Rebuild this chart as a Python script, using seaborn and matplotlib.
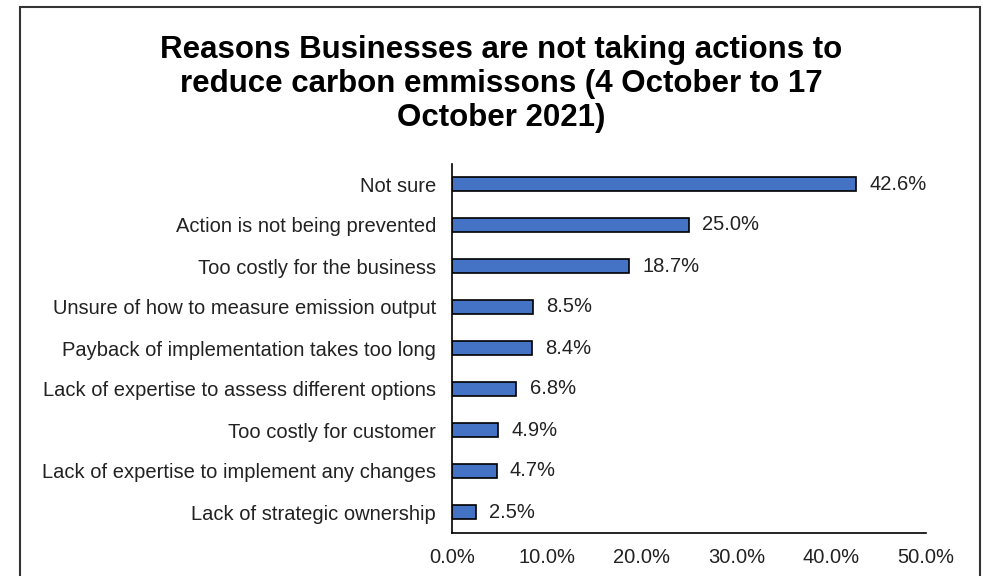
import matplotlib
matplotlib.use("Agg")
import matplotlib.pyplot as plt
import seaborn as sns
import pandas as pd
from matplotlib.patches import Rectangle
from matplotlib.ticker import FuncFormatter, MultipleLocator

reasons = [
    "Not sure",
    "Action is not being prevented",
    "Too costly for the business",
    "Unsure of how to measure emission output",
    "Payback of implementation takes too long",
    "Lack of expertise to assess different options",
    "Too costly for customer",
    "Lack of expertise to implement any changes",
    "Lack of strategic ownership",
]
shares = [42.6, 25.0, 18.7, 8.5, 8.4, 6.8, 4.9, 4.7, 2.5]

title = ("Reasons Businesses are not taking actions to\n"
         "reduce carbon emmissons (4 October to 17\n"
         "October 2021)")

sns.set_theme(style="white")
plt.rcParams["font.family"] = ["Liberation Sans", "DejaVu Sans"]

df = pd.DataFrame({"reason": reasons, "share": shares})

W, H = 987, 576
fig = plt.figure(figsize=(W / 100, H / 100), dpi=100)
ax = fig.add_axes([452 / W, (H - 532.5) / H, 474 / W, 369 / H])

sns.barplot(data=df, x="share", y="reason", orient="h", ax=ax,
            color="#4472C4", saturation=1, width=0.34,
            edgecolor="black", linewidth=1.2)

for patch, val in zip(ax.patches, shares):
    y = patch.get_y() + patch.get_height() / 2
    ax.annotate(f"{val:.1f}%", (patch.get_width(), y), xytext=(9.5, 0),
                textcoords="offset points", ha="left", va="center",
                fontsize=14.5, color="#222222")

ax.set_xlim(0, 50)
ax.set_ylim(8.5, -0.5)
ax.xaxis.set_major_locator(MultipleLocator(10))
ax.xaxis.set_major_formatter(FuncFormatter(lambda v, _: f"{v:.1f}%"))
ax.set_xlabel("")
ax.set_ylabel("")
ax.tick_params(axis="both", length=0, labelsize=14.5, colors="#222222")
ax.tick_params(axis="y", pad=11.5)
ax.tick_params(axis="x", pad=11)
for side in ("top", "right"):
    ax.spines[side].set_visible(False)
for side in ("left", "bottom"):
    ax.spines[side].set_color("black")
    ax.spines[side].set_linewidth(1.2)

fig.text(501.5 / W, 1 - 35 / H, title, ha="center", va="top", fontsize=22.5,
         fontweight="bold", color="black", linespacing=1.18)

fig.patches.append(Rectangle((20 / W, -0.02), 960 / W, 1 - 7 / H + 0.02,
                             transform=fig.transFigure, fill=False,
                             edgecolor="#333333", linewidth=1.5))

fig.savefig("out.png", dpi=100)
